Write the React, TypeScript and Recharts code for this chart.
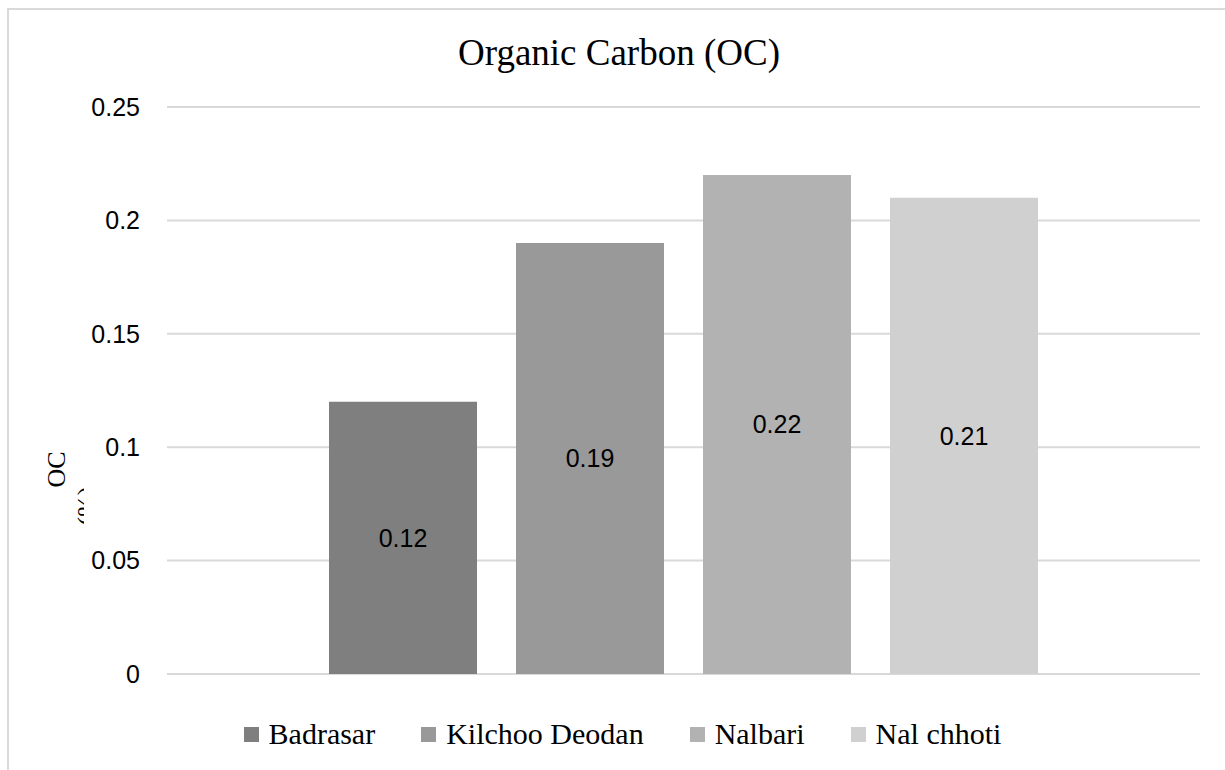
import React from 'react';
import { BarChart, Bar, XAxis, YAxis, CartesianGrid, LabelList, Legend } from 'recharts';

const sites = ['Badrasar', 'Kilchoo Deodan', 'Nalbari', 'Nal chhoti'];
const ocValues = [0.12, 0.19, 0.22, 0.21];
const siteColors = ['#7f7f7f', '#999999', '#b2b2b2', '#d0d0d0'];
const yTicks = [0, 0.05, 0.1, 0.15, 0.2, 0.25];
const categories = ['OC'];
const titleText = 'Organic Carbon (OC)';
const yLabelMain = 'OC';
const yLabelUnit = '(%)';

const data = categories.map((c) => {
  const row: Record<string, any> = { name: c };
  sites.forEach((s, i) => {
    row[s] = ocValues[i];
  });
  return row;
});

const SERIF = '"Liberation Serif", "Times New Roman", serif';
const SANS = '"Liberation Sans", Arial, sans-serif';

const renderLegend = () => (
  <div
    style={{
      display: 'flex',
      justifyContent: 'center',
      alignItems: 'center',
      paddingLeft: 20,
      height: 40,
    }}
  >
    {sites.map((s, i) => (
      <div
        key={s}
        style={{ display: 'flex', alignItems: 'center', marginRight: i < sites.length - 1 ? 46 : 0 }}
      >
        <div style={{ width: 15, height: 15, background: siteColors[i], marginRight: 10 }} />
        <span style={{ fontFamily: SERIF, fontSize: 30, lineHeight: '30px', color: '#000' }}>{s}</span>
      </div>
    ))}
  </div>
);

export default function App() {
  return (
    <div style={{ position: 'fixed', left: 0, top: 0, width: 1225, height: 770, background: '#fff' }}>
      <div
        style={{
          position: 'absolute',
          left: 7,
          top: 8,
          width: 1218,
          height: 762,
          borderLeft: '2px solid #d9d9d9',
          borderTop: '2px solid #d9d9d9',
          boxSizing: 'border-box',
        }}
      />
      <div style={{ position: 'absolute', left: 0, top: 0 }}>
        <BarChart
          width={1225}
          height={770}
          data={data}
          margin={{ top: 107, right: 25, bottom: 56, left: 0 }}
          barSize={148}
          barGap={39}
        >
          <CartesianGrid vertical={false} stroke="#d9d9d9" strokeWidth={2} />
          <XAxis dataKey="name" hide />
          <YAxis
            domain={[0, 0.25]}
            ticks={yTicks}
            axisLine={false}
            tickLine={false}
            tickSize={0}
            tickMargin={27}
            width={167}
            tick={{ fontSize: 25, fill: '#000', fontFamily: SANS }}
          />
          <Legend
            content={renderLegend}
            wrapperStyle={{ top: 714, left: 0, width: 1225, height: 40 }}
          />
          {sites.map((s, i) => (
            <Bar key={s} dataKey={s} fill={siteColors[i]} isAnimationActive={false}>
              <LabelList dataKey={s} position="center" fill="#000" fontSize={25} fontFamily={SANS} />
            </Bar>
          ))}
        </BarChart>
      </div>
      <svg
        width={1225}
        height={770}
        style={{ position: 'absolute', left: 0, top: 0, pointerEvents: 'none' }}
      >
        <defs>
          <clipPath id="ylabclip">
            <rect x={0} y={0} width={84} height={770} />
          </clipPath>
        </defs>
        <text x={619} y={65} textAnchor="middle" fontFamily={SERIF} fontSize={37} fill="#000">
          {titleText}
        </text>
        <text
          x={0}
          y={0}
          transform="translate(65,469.5) rotate(-90)"
          textAnchor="middle"
          fontFamily={SERIF}
          fontSize={26}
          fill="#000"
        >
          {yLabelMain}
        </text>
        <g clipPath="url(#ylabclip)">
          <text
            x={0}
            y={0}
            transform="translate(95,506) rotate(-90)"
            textAnchor="middle"
            fontFamily={SERIF}
            fontSize={26}
            fill="#000"
          >
            {yLabelUnit}
          </text>
        </g>
      </svg>
    </div>
  );
}
